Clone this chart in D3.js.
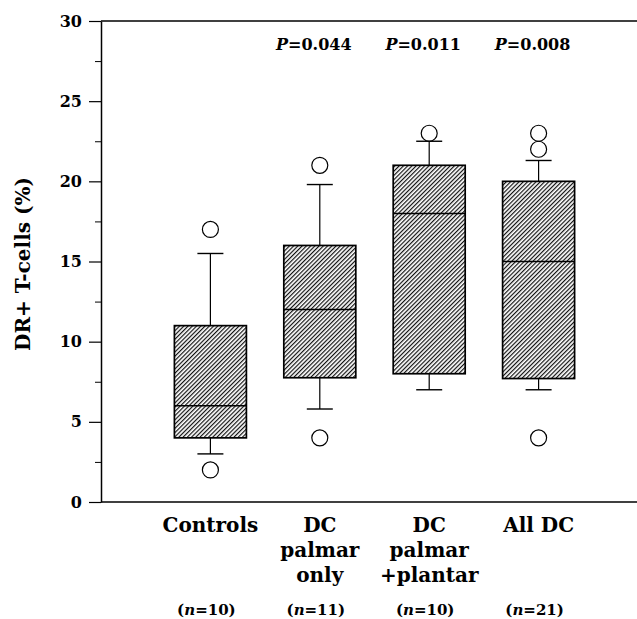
<!DOCTYPE html>
<html>
<head>
<meta charset="utf-8">
<script src="https://cdn.jsdelivr.net/npm/d3@7"></script>
<style>
  body { margin: 0; background: #fff; }
  text { font-family: "DejaVu Serif", serif; font-weight: bold; fill: #000; }
</style>
</head>
<body>
<div id="chart"></div>
<script>
// data
const categories  = ["Controls", "DC palmar only", "DC palmar +plantar", "All DC"];
const labelLines  = [["Controls"], ["DC", "palmar", "only"], ["DC", "palmar", "+plantar"], ["All DC"]];
const nCounts     = [10, 11, 10, 21];
const pValues     = [null, "0.044", "0.011", "0.008"];
const q1          = [4, 7.75, 8, 7.7];
const medians     = [6, 12, 18, 15];
const q3          = [11, 16, 21, 20];
const whiskerLow  = [3, 5.8, 7, 7];
const whiskerHigh = [15.5, 19.8, 22.5, 21.3];
const outliers    = [[2, 17], [4, 21], [23], [4, 22, 23]];
const majorTicks  = [0, 5, 10, 15, 20, 25, 30];
const minorTicks  = [2.5, 7.5, 12.5, 17.5, 22.5, 27.5];

const W = 637, H = 619;
const plotLeft = 101, plotRight = 637, plotTop = 21, plotBottom = 502;

const svg = d3.select("#chart").append("svg")
    .attr("width", W)
    .attr("height", H);

// hatch pattern ///
const defs = svg.append("defs");
const pat = defs.append("pattern")
    .attr("id", "hatch")
    .attr("patternUnits", "userSpaceOnUse")
    .attr("width", 3)
    .attr("height", 3)
    .attr("patternTransform", "rotate(45)");
pat.append("line")
    .attr("x1", 0.6).attr("y1", 0)
    .attr("x2", 0.6).attr("y2", 3)
    .attr("stroke", "#111")
    .attr("stroke-width", 1.2);

const y = d3.scaleLinear().domain([0, 30]).range([plotBottom, plotTop]);
const x = d3.scalePoint().domain(categories).range([plotLeft, 648]).padding(1);

// axes
const yAxis = svg.append("g")
    .attr("transform", `translate(${plotLeft},0)`)
    .call(d3.axisLeft(y).tickValues(majorTicks).tickSize(12).tickSizeOuter(0).tickPadding(7));
yAxis.select(".domain").attr("stroke", "#000").attr("stroke-width", 1.5);
yAxis.selectAll(".tick line").attr("stroke", "#000").attr("stroke-width", 1.2);
yAxis.selectAll(".tick text")
    .style("font-family", "DejaVu Serif, serif")
    .style("font-weight", "bold")
    .style("font-size", "16px")
    .attr("fill", "#000");

svg.append("g")
    .attr("transform", `translate(${plotLeft},0)`)
    .call(d3.axisLeft(y).tickValues(minorTicks).tickSize(6).tickFormat(""))
  .call(g => g.select(".domain").remove())
  .selectAll(".tick line").attr("stroke", "#000").attr("stroke-width", 1);

// top and bottom frame lines
svg.append("line")
    .attr("x1", plotLeft).attr("x2", plotRight)
    .attr("y1", y(30)).attr("y2", y(30))
    .attr("stroke", "#000").attr("stroke-width", 1.5);
svg.append("line")
    .attr("x1", plotLeft).attr("x2", plotRight)
    .attr("y1", y(0)).attr("y2", y(0))
    .attr("stroke", "#000").attr("stroke-width", 1.5);

// y label
svg.append("text")
    .attr("transform", `translate(30,264) rotate(-90)`)
    .attr("text-anchor", "middle")
    .style("font-size", "20px")
    .text("DR+ T-cells (%)");

// boxes
const boxW = 72, capW = 26;
categories.forEach((c, i) => {
  const cx = x(c);
  const g = svg.append("g");

  // whiskers
  [[q3[i], whiskerHigh[i]], [q1[i], whiskerLow[i]]].forEach(([a, b]) => {
    g.append("line")
        .attr("x1", cx).attr("x2", cx)
        .attr("y1", y(a)).attr("y2", y(b))
        .attr("stroke", "#000").attr("stroke-width", 1.2);
    g.append("line")
        .attr("x1", cx - capW / 2).attr("x2", cx + capW / 2)
        .attr("y1", y(b)).attr("y2", y(b))
        .attr("stroke", "#000").attr("stroke-width", 1.4);
  });

  g.append("rect")
      .attr("x", cx - boxW / 2)
      .attr("y", y(q3[i]))
      .attr("width", boxW)
      .attr("height", y(q1[i]) - y(q3[i]))
      .attr("fill", "url(#hatch)")
      .attr("stroke", "#000")
      .attr("stroke-width", 1.7);

  g.append("line")
      .attr("x1", cx - boxW / 2).attr("x2", cx + boxW / 2)
      .attr("y1", y(medians[i])).attr("y2", y(medians[i]))
      .attr("stroke", "#000").attr("stroke-width", 1.5);

  g.selectAll("circle")
    .data(outliers[i])
    .enter().append("circle")
      .attr("cx", cx)
      .attr("cy", d => y(d))
      .attr("r", 8)
      .attr("fill", "none")
      .attr("stroke", "#000")
      .attr("stroke-width", 1.2);

  // P value
  if (pValues[i]) {
    const t = svg.append("text")
        .attr("x", cx - 6)
        .attr("y", 50)
        .attr("text-anchor", "middle")
        .style("font-size", "16px");
    t.append("tspan").style("font-style", "italic").text("P");
    t.append("tspan").text("=" + pValues[i]);
  }

  // category label
  labelLines[i].forEach((line, k) => {
    svg.append("text")
        .attr("x", cx)
        .attr("y", 532 + k * 25)
        .attr("text-anchor", "middle")
        .style("font-size", "20px")
        .text(line);
  });

  // n label
  const nt = svg.append("text")
      .attr("x", cx - 4)
      .attr("y", 615)
      .attr("text-anchor", "middle")
      .style("font-size", "15px");
  nt.append("tspan").text("(");
  nt.append("tspan").style("font-style", "italic").text("n");
  nt.append("tspan").text("=" + nCounts[i] + ")");
});
</script>
</body>
</html>
